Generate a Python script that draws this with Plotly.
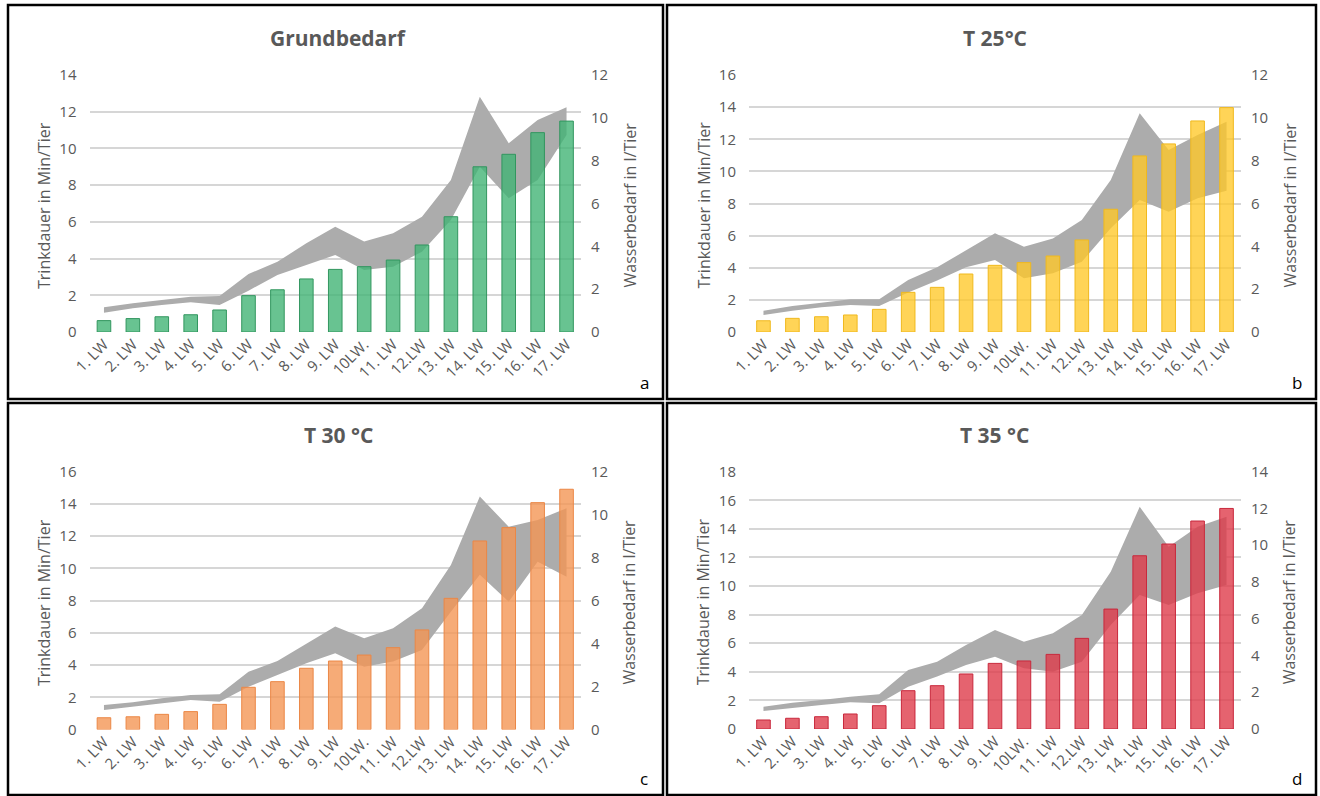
import plotly.graph_objects as go

W, H = 1320, 796

labels = ["1. LW", "2. LW", "3. LW", "4. LW", "5. LW", "6. LW", "7. LW", "8. LW", "9. LW",
          "10LW.", "11. LW", "12.LW", "13. LW", "14. LW", "15. LW", "16. LW", "17. LW"]

# Trinkdauer (bars, left axis)
grund_bars = [0.62, 0.73, 0.83, 0.94, 1.2, 1.98, 2.3, 2.89, 3.41, 3.56, 3.92, 4.74, 6.28, 9.0, 9.68, 10.86, 11.49]
t25_bars = [0.70, 0.85, 0.95, 1.06, 1.41, 2.47, 2.78, 3.61, 4.15, 4.32, 4.73, 5.73, 7.64, 10.96, 11.71, 13.14, 13.97]
t30_bars = [0.73, 0.79, 0.94, 1.11, 1.56, 2.62, 2.97, 3.80, 4.25, 4.62, 5.08, 6.18, 8.14, 11.7, 12.53, 14.08, 14.91]
t35_bars = [0.63, 0.75, 0.86, 1.05, 1.63, 2.68, 3.03, 3.85, 4.59, 4.76, 5.22, 6.34, 8.39, 12.12, 12.94, 14.55, 15.43]

# Wasserbedarf range (grey band, right axis)
grund_upper = [1.15, 1.34, 1.49, 1.65, 1.68, 2.71, 3.28, 4.14, 4.92, 4.22, 4.61, 5.38, 7.1, 10.99, 8.81, 9.9, 10.49]
grund_lower = [0.90, 1.11, 1.26, 1.39, 1.26, 1.93, 2.66, 3.13, 3.59, 2.89, 3.05, 3.75, 5.23, 7.72, 6.24, 7.1, 9.2]
t25_upper = [0.99, 1.21, 1.37, 1.53, 1.53, 2.43, 3.02, 3.83, 4.61, 3.98, 4.37, 5.23, 7.10, 10.21, 8.5, 9.2, 9.82]
t25_lower = [0.79, 0.99, 1.15, 1.26, 1.21, 1.84, 2.40, 3.02, 3.36, 2.51, 2.74, 3.28, 4.84, 6.16, 5.62, 6.24, 6.6]
t30_upper = [1.14, 1.27, 1.45, 1.61, 1.64, 2.69, 3.19, 4.01, 4.79, 4.25, 4.71, 5.64, 7.66, 10.84, 9.44, 9.75, 10.3]
t30_lower = [0.91, 1.06, 1.22, 1.37, 1.29, 1.99, 2.54, 3.08, 3.55, 2.92, 3.16, 3.70, 5.48, 7.2, 5.95, 7.81, 7.11]
t35_upper = [1.21, 1.43, 1.58, 1.76, 1.89, 3.21, 3.66, 4.57, 5.39, 4.75, 5.21, 6.20, 8.56, 12.09, 9.92, 11.0, 11.55]
t35_lower = [0.98, 1.16, 1.31, 1.45, 1.40, 2.30, 2.85, 3.48, 3.93, 3.30, 3.12, 3.66, 5.66, 7.29, 6.75, 7.38, 7.83]

titles = ["Grundbedarf", "T 25°C", "T 30 °C", "T 35 °C"]
tags = ["a", "b", "c", "d"]
bar_colors = ["rgba(66,180,118,0.8)", "rgba(255,200,40,0.78)", "rgba(244,150,85,0.8)", "rgba(222,60,75,0.8)"]
bar_lines = ["rgb(50,150,95)", "rgb(240,185,30)", "rgb(235,135,70)", "rgb(200,40,60)"]
left_max = [14, 16, 16, 18]
right_max = [12, 12, 12, 14]

panels = [
    (grund_bars, grund_lower, grund_upper),
    (t25_bars, t25_lower, t25_upper),
    (t30_bars, t30_lower, t30_upper),
    (t35_bars, t35_lower, t35_upper),
]

# plot boxes in pixels: left, top, right, bottom
boxes = [(89.5, 75, 581, 332), (749, 75, 1241, 332), (89.5, 471.7, 581, 729.5), (749, 471.7, 1241, 729)]
# panel frames
frames = [(8, 5, 663, 399), (667, 5, 1316, 399), (8, 403, 663, 795), (667, 403, 1316, 795)]

TXT = "#595959"
FONT = "Open Sans, sans-serif"

fig = go.Figure()
layout = dict(width=W, height=H, margin=dict(l=0, r=0, t=0, b=0, autoexpand=False),
              paper_bgcolor="white", plot_bgcolor="rgba(0,0,0,0)",
              showlegend=False, font=dict(family=FONT, color=TXT), bargap=0.53)
annotations = []
shapes = []

for i, (bars, lower, upper) in enumerate(panels):
    l, t, r, b = boxes[i]
    xn = "x" if i == 0 else f"x{i + 1}"
    yb_n = 2 * i + 1   # band axis (base, right side)
    yv_n = 2 * i + 2   # bar axis (overlay, left side)
    yb = "y" if yb_n == 1 else f"y{yb_n}"
    yv = f"y{yv_n}"
    xdom = [l / W, r / W]
    ydom = [1 - b / H, 1 - t / H]

    # grey range band
    fig.add_trace(go.Scatter(x=labels, y=lower, mode="lines", line=dict(width=0, color="rgb(172,172,172)"),
                             xaxis=xn, yaxis=yb, hoverinfo="skip"))
    fig.add_trace(go.Scatter(x=labels, y=upper, mode="lines", line=dict(width=0, color="rgb(172,172,172)"),
                             fill="tonexty", fillcolor="rgb(172,172,172)", xaxis=xn, yaxis=yb, hoverinfo="skip"))
    # bars
    fig.add_trace(go.Bar(x=labels, y=bars, marker=dict(color=bar_colors[i], line=dict(color=bar_lines[i], width=1)),
                         xaxis=xn, yaxis=yv, hoverinfo="skip"))

    xkey = "xaxis" if i == 0 else f"xaxis{i + 1}"
    layout[xkey] = dict(domain=xdom, anchor=yb, type="category", range=[-0.5, 16.5], automargin=False,
                        showgrid=False, showline=False, zeroline=False, ticks="",
                        tickangle=-45, tickfont=dict(size=15, color=TXT, family=FONT))
    ybkey = "yaxis" if yb_n == 1 else f"yaxis{yb_n}"
    layout[ybkey] = dict(domain=ydom, anchor=xn, side="right", range=[0, right_max[i]], dtick=2,
                         showgrid=False, zeroline=False, showline=False, ticks="", automargin=False,
                         ticklabelstandoff=9, tickfont=dict(size=15, color=TXT, family=FONT))
    layout[f"yaxis{yv_n}"] = dict(domain=ydom, anchor=xn, overlaying=yb, side="left",
                                  range=[0, left_max[i]], dtick=2, showgrid=True, automargin=False,
                                  gridcolor="rgb(214,214,214)", gridwidth=1.5, zeroline=False,
                                  showline=False, ticks="", ticklabelstandoff=12,
                                  tickfont=dict(size=15, color=TXT, family=FONT))

    cx = (frames[i][0] + frames[i][2]) / 2 + 3
    annotations.append(dict(text="<b>" + titles[i] + "</b>", x=cx / W, y=1 - (t - 37) / H,
                            xref="paper", yref="paper", showarrow=False, xanchor="center", yanchor="middle",
                            font=dict(size=21, color=TXT, family=FONT)))
    annotations.append(dict(text="Trinkdauer in Min/Tier", x=(l - 46) / W, y=1 - ((t + b) / 2 + 2) / H,
                            xref="paper", yref="paper", showarrow=False, textangle=-90,
                            xanchor="center", yanchor="middle",
                            font=dict(size=16, color=TXT, family=FONT)))
    annotations.append(dict(text="Wasserbedarf in l/Tier", x=(r + 48) / W, y=1 - ((t + b) / 2 + 2) / H,
                            xref="paper", yref="paper", showarrow=False, textangle=-90,
                            xanchor="center", yanchor="middle",
                            font=dict(size=16, color=TXT, family=FONT)))
    annotations.append(dict(text=tags[i], x=(frames[i][2] - 19) / W, y=1 - (frames[i][3] - 17) / H,
                            xref="paper", yref="paper", showarrow=False, xanchor="center", yanchor="middle",
                            font=dict(size=17, color="black", family=FONT)))
    fl, ft, fr, fb = frames[i]
    shapes.append(dict(type="rect", xref="paper", yref="paper", x0=fl / W, x1=fr / W,
                       y0=1 - fb / H, y1=1 - ft / H, line=dict(color="black", width=2.5)))

layout["annotations"] = annotations
layout["shapes"] = shapes
fig.update_layout(**layout)
# drop the default page margin so the figure sits at the window origin
fig.write_html("out.html", config={"displayModeBar": False},
               post_script="document.body.style.margin = '0px';")
